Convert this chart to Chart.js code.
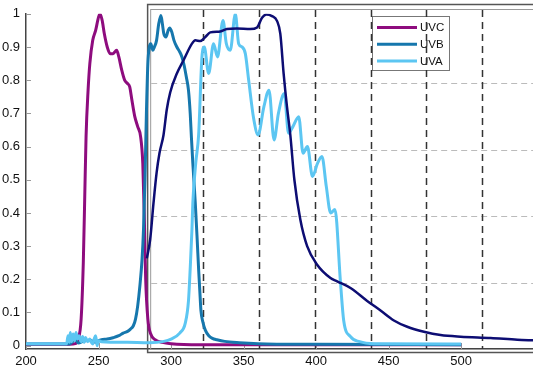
<!DOCTYPE html>
<html>
<head>
<meta charset="utf-8">
<script src="https://cdn.jsdelivr.net/npm/chart.js"></script>
<style>
  html,body{margin:0;padding:0;background:#fff;}
  #wrap{width:533px;height:373px;}
</style>
</head>
<body>
<div id="wrap"><canvas id="c"></canvas></div>
<script>
/* ===== data (wavelength nm / normalized) ===== */
const uvcX = [200,230,234,236,238,239.5,240.5,241.4,242.8,244,246,248,250,251,252.5,254,256,258,260,262.5,264,266,268,270,271.5,273,275,277,279,280.5,281.5,282.5,284,286,289,294,300,320,400,500];
const uvcY = [0.004,0.004,0.006,0.02,0.08,0.25,0.45,0.63,0.77,0.85,0.92,0.95,0.99,1.0,0.98,0.94,0.9,0.88,0.88,0.89,0.87,0.83,0.8,0.79,0.78,0.74,0.69,0.66,0.63,0.55,0.4,0.2,0.08,0.035,0.018,0.01,0.006,0.003,0.003,0.003];

const uvbX = [200,230,232,234,236,240,244,248,250,252,256,260,264,267,270,272,274,275.5,277,278.5,280,281,282,283,284,285,286,287.5,288.5,290,291.5,293,294,295,296.5,298,299,300.5,302,304,306,307.5,309,310.5,312,313.2,314,315,316.7,318,319,320,320.6,322,323.6,326,328.5,331.6,337,347,360,400,500];
const uvbY = [0.005,0.005,0.012,0.018,0.008,0.014,0.016,0.01,0.015,0.018,0.02,0.024,0.03,0.038,0.043,0.05,0.06,0.08,0.12,0.18,0.26,0.35,0.5,0.7,0.85,0.9,0.91,0.89,0.9,0.92,0.97,0.995,0.97,0.94,0.93,0.95,0.957,0.945,0.92,0.9,0.885,0.87,0.845,0.81,0.77,0.7,0.63,0.55,0.43,0.32,0.23,0.15,0.106,0.07,0.047,0.03,0.022,0.018,0.013,0.009,0.006,0.004,0.003];

const uvaX = [200,228,229,230,230.5,231.5,232.5,233.5,234.5,235.5,236.5,238,239,240,241,242.5,244,245,246,247,248,249,250,252,270,285,295,300,306,309.8,312,313.2,314.4,315,317,319,321.3,322.9,325.9,329.3,332,335.8,338.1,340.8,344.3,346.6,349,351.2,353.5,356.9,360,364,367.5,371,374,378,381,384,388,391,394,397.5,401,404,407,410,413,416.8,419,423.7,430,440,500];
const uvaY = [0.006,0.006,0.03,0.01,0.04,0.012,0.035,0.015,0.04,0.02,0.03,0.012,0.028,0.01,0.025,0.012,0.02,0.01,0.005,0.02,0.03,0.0,0.015,0.012,0.01,0.009,0.013,0.02,0.038,0.068,0.135,0.233,0.35,0.43,0.55,0.635,0.87,0.9,0.82,0.91,0.87,0.98,0.91,0.89,1.0,0.91,0.9,0.88,0.8,0.685,0.635,0.72,0.77,0.62,0.7,0.76,0.64,0.66,0.69,0.58,0.6,0.51,0.55,0.57,0.48,0.4,0.41,0.19,0.076,0.027,0.012,0.006,0.005];

const extX = [283.3,285.6,287.9,290,292,294.8,297,299.4,304,308.6,314.4,316.7,320.1,323.6,327,333.9,338.5,345.4,354.6,359.3,362.7,365.7,369.6,373.1,375.3,377.6,379.9,382.2,385,389.1,393.8,400.7,409.9,414.5,423.7,435.2,444.4,453.6,462.8,474.3,485.8,499.6,520.3,538.7,550];
const extY = [0.263,0.32,0.43,0.52,0.58,0.635,0.71,0.763,0.82,0.86,0.91,0.92,0.918,0.93,0.944,0.947,0.954,0.956,0.954,0.959,0.988,0.998,0.993,0.978,0.94,0.82,0.72,0.635,0.5,0.38,0.3,0.244,0.204,0.194,0.174,0.135,0.106,0.076,0.057,0.042,0.032,0.027,0.023,0.018,0.016];

const xTicks = [200,250,300,350,400,450,500];
const yTicks = [0,0.1,0.2,0.3,0.4,0.5,0.6,0.7,0.8,0.9,1];
// grid of the inset frame, in main-axis units
const vGrid = [322,360.5,399,437.5,476,514.5];
const hGrid = [0.19,0.39,0.59,0.79];

const pts = (xs,ys)=>xs.map((v,i)=>({x:v,y:ys[i]}));

/* ===== inset frame + legend + inner ticks ===== */
const frame = {
  id:'frame',
  beforeDatasetsDraw(c){
    const {ctx, scales:{x,y}, chartArea:a} = c;
    ctx.save();
    // outer + inner rectangles of the inset
    const ox = x.getPixelForValue(283.5), ix = x.getPixelForValue(285.6);
    ctx.lineWidth = 1.5; ctx.strokeStyle = '#555';
    ctx.strokeRect(ox+.5, 4.5, a.right+10-ox, 348);
    ctx.lineWidth = 1; ctx.strokeStyle = '#999';
    ctx.strokeRect(ix+.5, 9.5, a.right+10-ix, 340);

    // legend box
    const lx=372.5, ly=16.5, lw=77, lh=54;
    ctx.fillStyle='#fff'; ctx.fillRect(lx,ly,lw,lh);
    ctx.strokeStyle='#777'; ctx.lineWidth=1; ctx.strokeRect(lx,ly,lw,lh);
    ctx.font='11.5px "Liberation Sans", Arial, sans-serif';
    ctx.textBaseline='middle'; ctx.textAlign='left';
    c.data.datasets.slice(0,3).forEach((d,i)=>{
      const yy = 27.5 + i*16.7;
      ctx.strokeStyle=d.borderColor; ctx.lineWidth=3;
      ctx.beginPath(); ctx.moveTo(377,yy); ctx.lineTo(417,yy); ctx.stroke();
      ctx.fillStyle='#111'; ctx.fillText(d.label,420,yy+0.5);
    });

    // inset grid
    ctx.lineWidth=1; ctx.strokeStyle='#bbb'; ctx.setLineDash([6,4]);
    hGrid.forEach(v=>{
      const py=Math.round(y.getPixelForValue(v))+.5;
      ctx.beginPath(); ctx.moveTo(ix+1,py); ctx.lineTo(a.right,py); ctx.stroke();
    });
    ctx.lineWidth=1.5; ctx.strokeStyle='#333'; ctx.setLineDash([7,5]);
    vGrid.forEach(v=>{
      const px=Math.round(x.getPixelForValue(v))+.5;
      ctx.beginPath(); ctx.moveTo(px,10); ctx.lineTo(px,a.bottom); ctx.stroke();
    });
    ctx.setLineDash([]);

    // inward tick marks
    ctx.strokeStyle='#999'; ctx.lineWidth=1;
    yTicks.forEach(v=>{
      const py=Math.round(y.getPixelForValue(v))+.5;
      ctx.beginPath(); ctx.moveTo(a.left,py); ctx.lineTo(a.left+5,py); ctx.stroke();
    });
    xTicks.forEach(v=>{
      const px=Math.round(x.getPixelForValue(v))+.5;
      ctx.beginPath(); ctx.moveTo(px,a.bottom); ctx.lineTo(px,a.bottom-6); ctx.stroke();
    });
    ctx.restore();
  }
};

const font = {family:'"Liberation Sans", Arial, sans-serif', size:13};

new Chart(document.getElementById('c'),{
  type:'line',
  data:{
    datasets:[
      {label:'UVC', data:pts(uvcX,uvcY), borderColor:'#8e0c7e', order:3},
      {label:'UVB', data:pts(uvbX,uvbY), borderColor:'#1677ad', order:2},
      {label:'UVA', data:pts(uvaX,uvaY), borderColor:'#5cc6f2', order:1},
      {label:'', data:pts(extX,extY), borderColor:'#0d0d73', borderWidth:2.5, order:0}
    ]
  },
  options:{
    responsive:true, maintainAspectRatio:false, animation:false,
    layout:{padding:{top:6,right:0,left:0,bottom:0}},
    elements:{
      point:{radius:0},
      line:{borderWidth:3, cubicInterpolationMode:'monotone', fill:false}
    },
    plugins:{legend:{display:false}, tooltip:{enabled:false}},
    scales:{
      x:{
        type:'linear', min:200, max:549.5,
        afterFit:s=>{s.height=24},
        afterBuildTicks:s=>{s.ticks=xTicks.map(v=>({value:v}))},
        ticks:{color:'#111', font, padding:5, maxRotation:0},
        grid:{display:true, drawOnChartArea:false, drawTicks:false},
        border:{display:true, color:'#444', width:1.5}
      },
      y:{
        min:-0.01, max:1,
        afterFit:s=>{s.width=26},
        afterBuildTicks:s=>{s.ticks=yTicks.map(v=>({value:v}))},
        ticks:{color:'#111', font, padding:6, callback:v=>String(Math.round(v*10)/10)},
        grid:{display:true, drawOnChartArea:false, drawTicks:false},
        border:{display:true, color:'#444', width:1.5}
      }
    }
  },
  plugins:[frame]
});
</script>
</body>
</html>
